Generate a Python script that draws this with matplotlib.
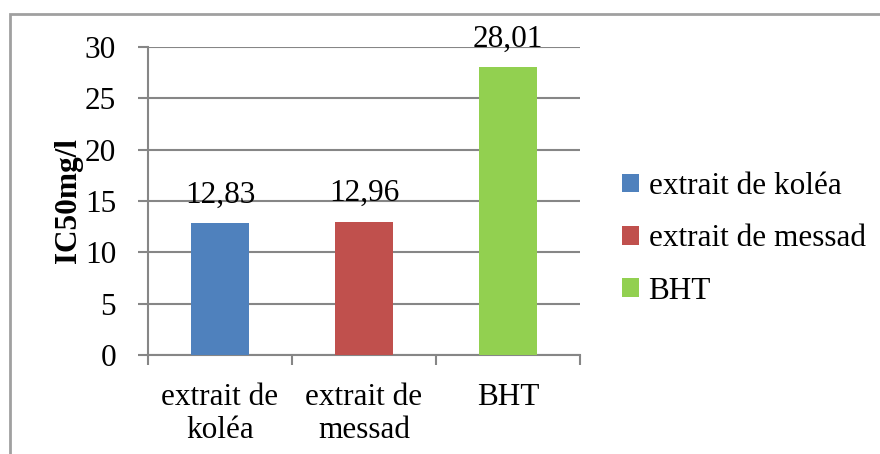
import matplotlib
matplotlib.use("Agg")
import matplotlib.pyplot as plt
from matplotlib.patches import Rectangle
from matplotlib.ticker import FixedLocator

# Data
categories = ["extrait de\nkoléa", "extrait de\nmessad", "BHT"]
legend_labels = ["extrait de koléa", "extrait de messad", "BHT"]
ic50_values = [12.83, 12.96, 28.01]
bar_colors = ["#4F81BD", "#C0504D", "#92D050"]
y_ticks = [0, 5, 10, 15, 20, 25, 30]

plt.rcParams["font.family"] = ["Liberation Serif", "DejaVu Serif"]
FS = 22.5
GRID = "#868686"

fig = plt.figure(figsize=(8.8, 4.54), dpi=100)
fig.patch.set_facecolor("white")

# Outer chart-area frame (right and bottom edges fall outside the canvas)
fig.patches.append(Rectangle((10 / 880, -0.1), 1.2, (454 - 14) / 454 + 0.1,
                             transform=fig.transFigure, fill=False,
                             edgecolor="#A0A0A0", linewidth=2, zorder=0))

ax = fig.add_axes([148 / 880, 99 / 454, 432 / 880, 308 / 454])

x = list(range(len(categories)))
bars = ax.bar(x, ic50_values, width=0.4, color=bar_colors, zorder=3)

for xi, v in zip(x, ic50_values):
    ax.annotate(f"{v:.2f}".replace(".", ","), xy=(xi, v), xytext=(0, 10),
                textcoords="offset points", ha="center", va="bottom",
                fontsize=FS, color="black", zorder=4)

ax.set_xlim(-0.5, len(categories) - 0.5)
ax.set_ylim(0, 30)
ax.set_yticks(y_ticks)
ax.set_xticks(x)
ax.set_xticklabels(categories, fontsize=FS, linespacing=1.2)
ax.xaxis.set_minor_locator(FixedLocator([i - 0.5 for i in range(len(categories) + 1)]))
ax.tick_params(axis="x", which="major", length=0, pad=20)
ax.tick_params(axis="x", which="minor", length=7, width=1.5, color=GRID, direction="out")
ax.tick_params(axis="y", length=7, width=1.5, color=GRID, direction="out",
               labelsize=FS, pad=16)

ax.yaxis.grid(True, color=GRID, linewidth=1.5, zorder=0)
ax.set_axisbelow(True)
for side in ("top", "right"):
    ax.spines[side].set_visible(False)
for side in ("left", "bottom"):
    ax.spines[side].set_color(GRID)
    ax.spines[side].set_linewidth(1.5)

ax.set_ylabel("IC50mg/l", fontsize=FS, fontweight="bold", va="center")
ax.yaxis.set_label_coords(-0.185, 0.5)

ax.legend(bars, legend_labels, loc="center left",
          bbox_to_anchor=(622 / 880, 1 - 239 / 454),
          bbox_transform=fig.transFigure, frameon=False, fontsize=FS,
          handlelength=0.55, handleheight=0.55, handletextpad=0.3,
          labelspacing=0.75, borderpad=0, borderaxespad=0)

fig.savefig("out.png", dpi=100, facecolor="white")
